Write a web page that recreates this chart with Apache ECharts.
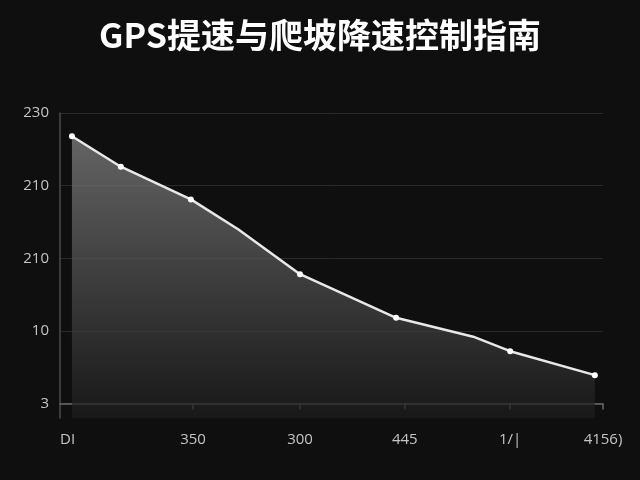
<!DOCTYPE html>
<html>
<head>
<meta charset="utf-8">
<script src="https://cdn.jsdelivr.net/npm/echarts@6/dist/echarts.min.js"></script>
<style>
html,body{margin:0;padding:0;background:#0f0f0f;}
#chart{width:640px;height:480px;}
</style>
</head>
<body>
<div id="chart"></div>
<script>
// Data
var titleText = 'GPS提速与爬坡降速控制指南';
var xTickPos = [0, 24.5, 44.2, 63.5, 82.9, 100];
var xTickLabels = ['DI', '350', '300', '445', '1/|', '4156)'];
var yTickPos = [0, 1, 2, 3, 4];
var yTickLabels = ['3', '10', '210', '210', '230'];
var pointX = [2.2, 11.2, 24.1, 32.8, 44.2, 61.9, 76.1, 82.9, 98.5];
var pointY = [3.68, 3.26, 2.81, 2.40, 1.78, 1.18, 0.92, 0.72, 0.39];
var pointMarked = [1, 1, 1, 0, 1, 1, 0, 1, 1];

function lookup(pos, labels, v) {
  for (var i = 0; i < pos.length; i++) {
    if (Math.abs(pos[i] - v) < 1e-6) return labels[i];
  }
  return '';
}

var seriesData = pointX.map(function (x, i) {
  var item = { value: [x, pointY[i]] };
  if (!pointMarked[i]) item.symbol = 'none';
  return item;
});

var chart = echarts.init(document.getElementById('chart'));
chart.setOption({
  backgroundColor: '#0f0f0f',
  animation: false,
  title: {
    text: titleText,
    left: 'center',
    top: 13,
    textStyle: {
      color: '#ffffff',
      fontSize: 34,
      fontWeight: 'bold',
      fontFamily: 'Noto Sans CJK SC, Noto Sans, sans-serif'
    }
  },
  grid: { left: 60, right: 37, top: 113, bottom: 62 },
  xAxis: {
    type: 'value',
    min: 0,
    max: 100,
    axisLine: { show: true, lineStyle: { color: '#6a6a6a', width: 1.5 } },
    axisTick: {
      show: true,
      customValues: xTickPos.slice(1),
      length: 6,
      lineStyle: { color: '#6a6a6a', width: 1.5 }
    },
    axisLabel: {
      customValues: xTickPos,
      formatter: function (v) { return lookup(xTickPos, xTickLabels, v); },
      color: '#c4c4c4',
      fontSize: 15,
      margin: 14,
      alignMinLabel: 'left',
      fontFamily: 'Open Sans, DejaVu Sans, sans-serif'
    },
    splitLine: { show: false }
  },
  yAxis: {
    type: 'value',
    min: -0.2,
    max: 4,
    axisLine: { show: true, lineStyle: { color: '#4c4c4c', width: 1.5 } },
    axisTick: { show: false, customValues: yTickPos },
    axisLabel: {
      customValues: yTickPos,
      formatter: function (v) { return lookup(yTickPos, yTickLabels, v); },
      color: '#c4c4c4',
      fontSize: 15,
      margin: 11,
      fontFamily: 'Open Sans, DejaVu Sans, sans-serif'
    },
    splitLine: { show: true, lineStyle: { color: '#2a2a2a', width: 1 } }
  },
  series: [{
    type: 'line',
    data: seriesData,
    symbol: 'circle',
    symbolSize: 6,
    itemStyle: { color: '#ffffff' },
    lineStyle: { color: '#e8e8e8', width: 2.5 },
    areaStyle: {
      origin: 'start',
      color: new echarts.graphic.LinearGradient(0, 0, 0, 1, [
        { offset: 0, color: '#888888' },
        { offset: 1, color: '#1c1c1c' }
      ])
    }
  }]
});
</script>
</body>
</html>
